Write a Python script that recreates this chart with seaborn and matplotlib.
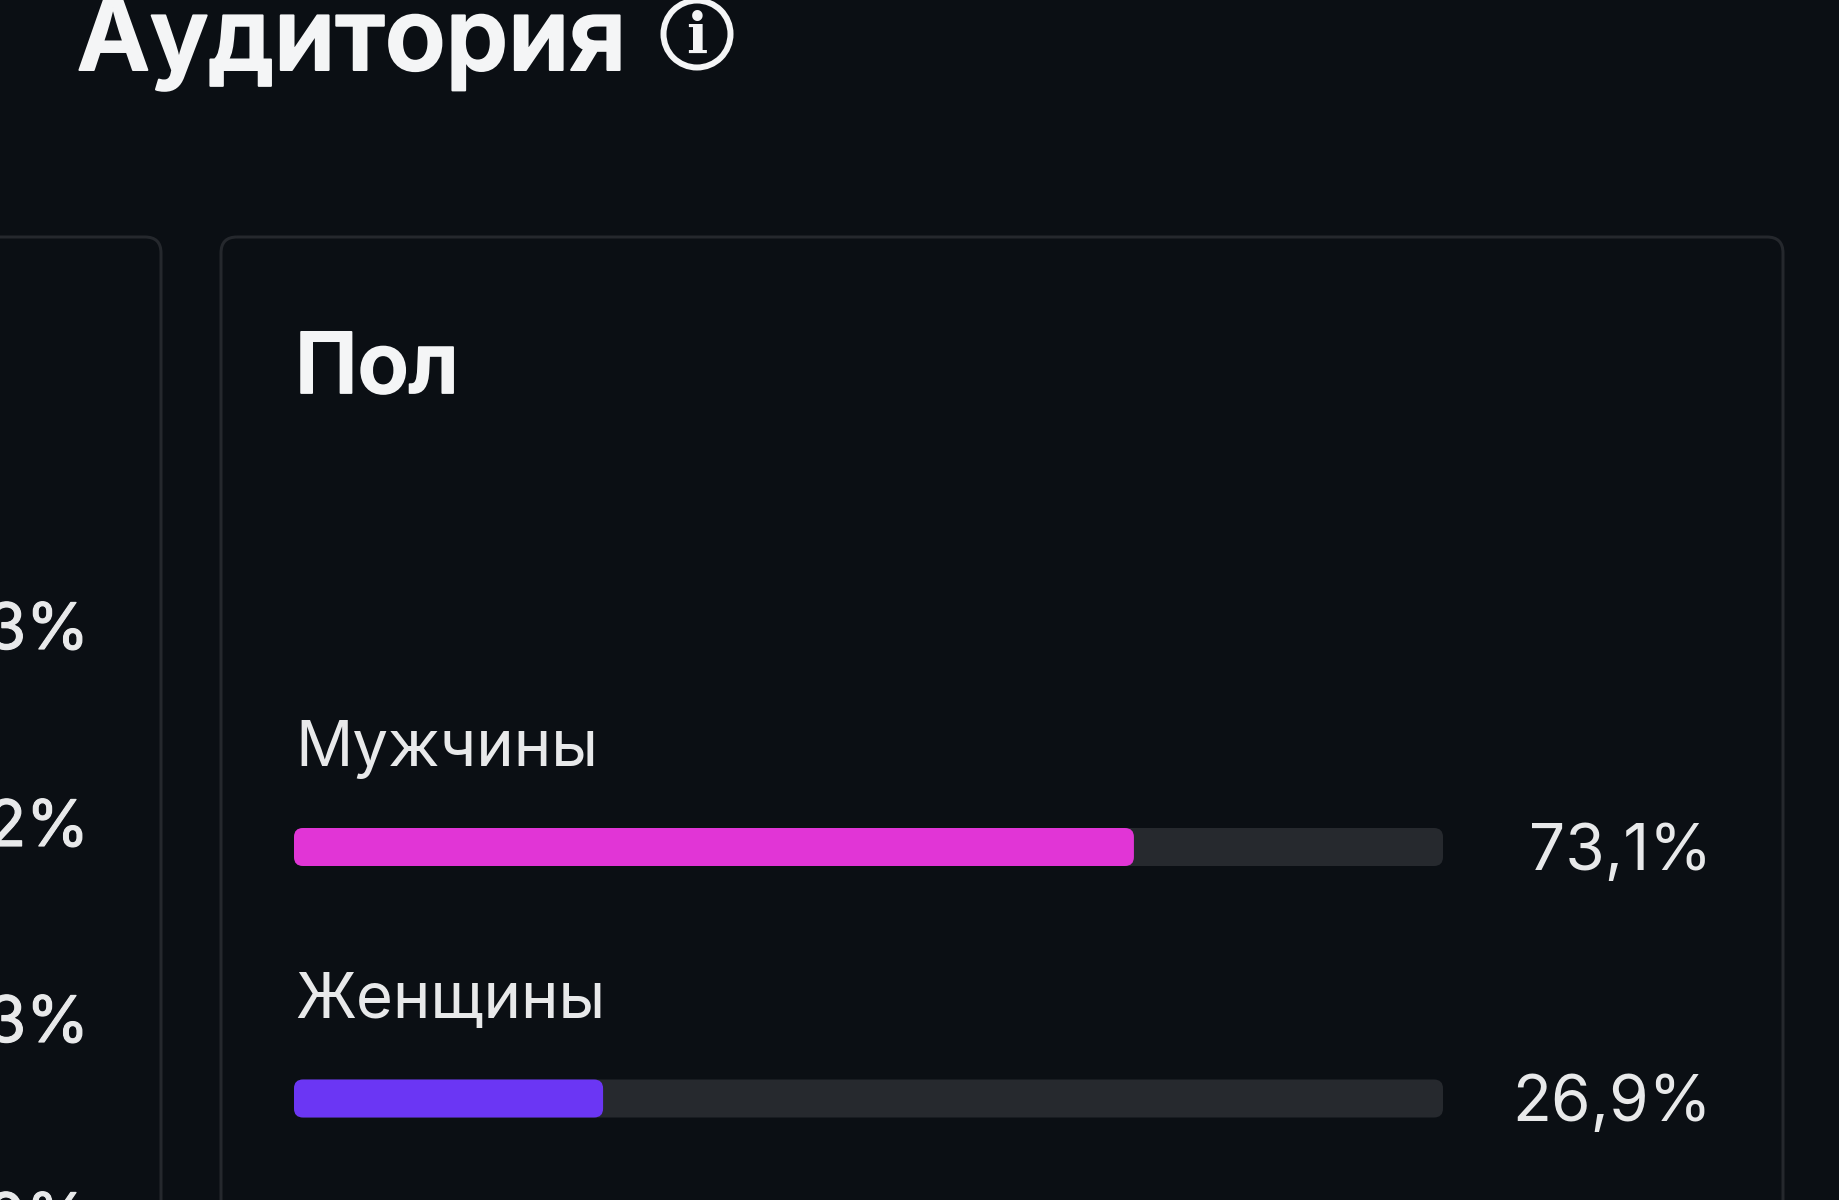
import matplotlib
matplotlib.use("Agg")
import matplotlib.pyplot as plt
from matplotlib.patches import FancyBboxPatch, Circle
import matplotlib.patheffects as pe
import pandas as pd
import seaborn as sns

# ---- data -----
page_title = "Аудитория"
card_title = "Пол"
genders = ["Мужчины", "Женщины"]
shares = [73.1, 26.9]
share_labels = ["73,1%", "26,9%"]
track_full = [100, 100]
bar_colors = ["#E135D6", "#6B36F4"]
left_card_labels = ["3%", "2%", "3%", "0%"]

BG = "#0B0F14"
BORDER = "#25282D"
TRACK = "#26292E"
TXT = "#F4F5F6"
TXT2 = "#E8E9EA"

W, H = 1840, 1200
sns.set_theme(style="dark", rc={"figure.facecolor": BG, "axes.facecolor": "none", "savefig.facecolor": BG})
plt.rcParams["font.family"] = ["Inter", "Liberation Sans", "DejaVu Sans"]

fig = plt.figure(figsize=(W / 100, H / 100), dpi=100)

# page layer in pixel space
page = fig.add_axes([0, 0, 1, 1], zorder=0)
page.set_xlim(0, W)
page.set_ylim(H, 0)
page.axis("off")
px = 0.72  # px -> pt


def heavy(color, width):
    return [pe.withStroke(linewidth=width * px, foreground=color)]


for (x0, x1) in [(-60, 161), (221, 1783)]:
    page.add_patch(FancyBboxPatch((x0 + 16, 237 + 16), x1 - x0 - 32, 1200,
                                  boxstyle="round,pad=16,rounding_size=16",
                                  fc="none", ec=BORDER, lw=3 * px))

page.text(77, 70, page_title, fontsize=100 * px, fontweight="semibold", color=TXT, ha="left", va="baseline",
          path_effects=heavy(TXT, 2))
page.add_patch(Circle((697, 34), 33.5, fc="none", ec=TXT, lw=6 * px))
page.text(697, 53, "i", fontsize=56 * px, fontweight="bold", family="DejaVu Serif", color=TXT, ha="center",
          va="baseline")
page.text(295, 393, card_title, fontsize=84 * px, fontweight="semibold", color=TXT, ha="left", va="baseline",
          path_effects=heavy(TXT, 1.8))

for label, base in zip(left_card_labels, [649, 846, 1042, 1239]):
    page.text(89, base, label, fontsize=64 * px, color=TXT2, ha="right", va="baseline",
              path_effects=heavy(TXT2, 1.2))

# chart layer
ax_left, ax_right = 294, 1443
ax_top, ax_bottom = 790, 1160
row0, row1 = 847, 1098.5
unit = row1 - row0
ax = fig.add_axes([ax_left / W, 1 - ax_bottom / H, (ax_right - ax_left) / W, (ax_bottom - ax_top) / H], zorder=1)
df = pd.DataFrame({"gender": genders, "share": shares, "full": track_full})
bar_w = 38 / unit
sns.barplot(data=df, y="gender", x="full", color=TRACK, width=bar_w, ax=ax, saturation=1, zorder=1)
sns.barplot(data=df, y="gender", x="share", hue="gender", palette=bar_colors, legend=False,
            width=bar_w, ax=ax, saturation=1, zorder=2)
ax.set_xlim(0, 100)
ax.set_ylim((ax_bottom - row0) / unit, (ax_top - row0) / unit)
ax.axis("off")

# round bar corners, keeping the geometry the bars got from seaborn
x_unit_px = (ax_right - ax_left) / 100
aspect = x_unit_px / unit
r = 9 / x_unit_px
for p in list(ax.patches):
    x, y, w, h = p.get_x(), p.get_y(), p.get_width(), p.get_height()
    fc, z = p.get_facecolor(), p.get_zorder()
    p.remove()
    ax.add_patch(FancyBboxPatch((x + r, y + r * aspect), w - 2 * r, h - 2 * r * aspect,
                                boxstyle=f"round,pad={r},rounding_size={r}", mutation_aspect=aspect,
                                fc=fc, ec="none", zorder=z, clip_on=False))

for i, (g, lab) in enumerate(zip(genders, share_labels)):
    ax.annotate(g, (0, i), xytext=(1 * px, 81 * px), textcoords="offset points", fontsize=63.5 * px,
                color=TXT2, ha="left", va="baseline", annotation_clip=False)
    ax.annotate(lab, (100, i), xytext=(269 * px, -23 * px), textcoords="offset points", fontsize=64 * px,
                color=TXT2, ha="right", va="baseline", annotation_clip=False)

fig.savefig("out.png", dpi=100)
